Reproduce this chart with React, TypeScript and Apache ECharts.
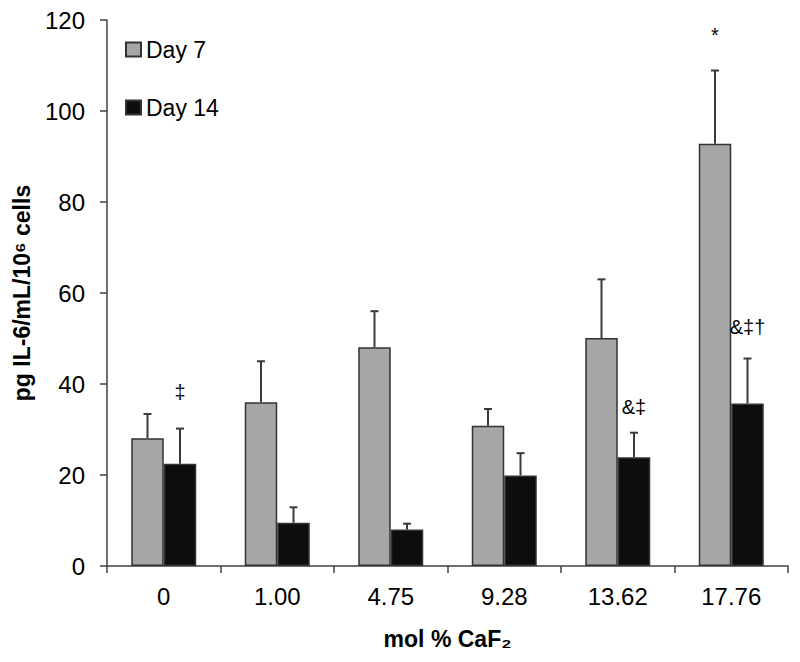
import React, { useEffect, useRef } from "react";
import * as echarts from "echarts";

const categories = ["0", "1.00", "4.75", "9.28", "13.62", "17.76"];
const day7Values = [28.1, 36.0, 48.1, 30.8, 50.1, 92.8];
const day7ErrTop = [33.4, 45.0, 56.0, 34.5, 63.0, 108.9];
const day14Values = [22.5, 9.5, 8.0, 19.9, 23.9, 35.7];
const day14ErrTop = [30.2, 12.9, 9.3, 24.8, 29.3, 45.6];
// annotations: [category index, series (0 = Day 7, 1 = Day 14), y value, text]
const annoCat = [0, 4, 5, 5];
const annoSeries = [1, 1, 1, 0];
const annoY = [38.2, 35.0, 52.5, 116.8];
const annoText = ["‡", "&‡", "&‡†", "*"];
const yTicks = { min: 0, max: 120, interval: 20 };

const BAR_W = 32.5;
const FONT = "'Liberation Sans', Arial, sans-serif";

export default function App() {
  const ref = useRef<HTMLDivElement>(null);
  useEffect(() => {
    if (!ref.current) return;
    const chart = echarts.init(ref.current, null, { renderer: "svg" });

    const errRender = (offset: number) => (params: any, api: any) => {
      const base = api.coord([api.value(0), api.value(1)]);
      const top = api.coord([api.value(0), api.value(2)]);
      const x = base[0] + offset;
      const style = { stroke: "#3a3a3a", lineWidth: 2 };
      return {
        type: "group",
        children: [
          { type: "line", shape: { x1: x, y1: base[1], x2: x, y2: top[1] }, style },
          { type: "line", shape: { x1: x - 4, y1: top[1], x2: x + 4, y2: top[1] }, style },
        ],
      };
    };

    const annoRender = (params: any, api: any) => {
      const p = api.coord([api.value(0), api.value(1)]);
      const s = api.value(2);
      const offset = s === 0 ? -BAR_W / 2 : BAR_W / 2;
      return {
        type: "text",
        x: p[0] + offset,
        y: p[1],
        style: {
          text: annoText[params.dataIndex],
          fontFamily: FONT,
          fontSize: 20,
          fill: "#000",
          align: "center",
          verticalAlign: "middle",
        },
      };
    };

    chart.setOption({
      animation: false,
      backgroundColor: "#fff",
      grid: { left: 99, right: 4, top: 12, bottom: 88, containLabel: false, outerBoundsMode: "none" },
      legend: {
        orient: "vertical",
        left: 112,
        top: 25,
        itemWidth: 15,
        itemHeight: 14,
        itemGap: 35,
        icon: "rect",
        textStyle: { fontFamily: FONT, fontSize: 23, color: "#000" },
        data: ["Day 7", "Day 14"],
      },
      xAxis: {
        type: "category",
        data: categories,
        boundaryGap: true,
        axisLine: { lineStyle: { color: "#404040", width: 1.5 } },
        axisTick: { show: true, interval: 0, alignWithLabel: false, length: 7, lineStyle: { color: "#404040", width: 1.5 } },
        axisLabel: { fontFamily: FONT, fontSize: 24, color: "#000", margin: 18, interval: 0 },
        name: "mol % CaF₂",
        nameLocation: "middle",
        nameGap: 61,
        nameTextStyle: { fontFamily: FONT, fontSize: 23, fontWeight: "bold", color: "#000" },
      },
      yAxis: {
        type: "value",
        min: yTicks.min,
        max: yTicks.max,
        interval: yTicks.interval,
        splitLine: { show: false },
        axisLine: { show: true, lineStyle: { color: "#404040", width: 1.5 } },
        axisTick: { show: true, length: 7, lineStyle: { color: "#404040", width: 1.5 } },
        axisLabel: { fontFamily: FONT, fontSize: 24, color: "#000", margin: 22 },
        name: "pg IL-6/mL/10⁶ cells",
        nameLocation: "middle",
        nameGap: 74,
        nameTextStyle: { fontFamily: FONT, fontSize: 23, fontWeight: "bold", color: "#000" },
      },
      series: [
        {
          name: "Day 7",
          type: "bar",
          data: day7Values,
          barWidth: BAR_W,
          barGap: "0%",
          itemStyle: { color: "#a6a6a6", borderColor: "#333", borderWidth: 1.5 },
        },
        {
          name: "Day 14",
          type: "bar",
          data: day14Values,
          barWidth: BAR_W,
          barGap: "0%",
          itemStyle: { color: "#0d0d0d", borderColor: "#333", borderWidth: 1.5 },
        },
        {
          type: "custom",
          renderItem: errRender(-BAR_W / 2),
          data: categories.map((_, i) => [i, day7Values[i], day7ErrTop[i]]),
          z: 1,
          silent: true,
        },
        {
          type: "custom",
          renderItem: errRender(BAR_W / 2),
          data: categories.map((_, i) => [i, day14Values[i], day14ErrTop[i]]),
          z: 1,
          silent: true,
        },
        {
          type: "custom",
          renderItem: annoRender,
          data: annoCat.map((c, i) => [c, annoY[i], annoSeries[i]]),
          z: 3,
          silent: true,
        },
      ],
    });
    return () => chart.dispose();
  }, []);
  return <div ref={ref} style={{ width: 784, height: 646 }} />;
}
